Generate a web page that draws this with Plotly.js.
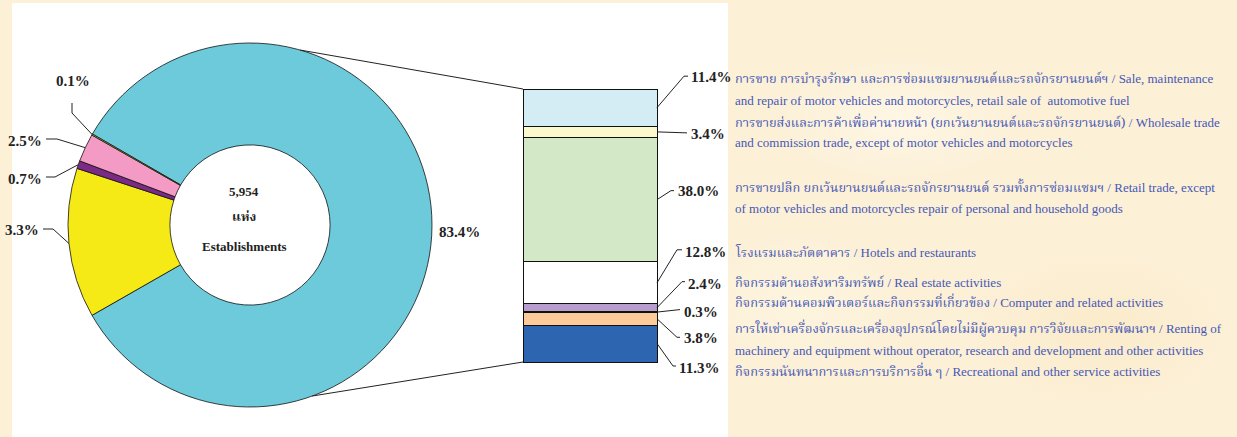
<!DOCTYPE html>
<html><head><meta charset="utf-8">
<script src="https://cdn.plot.ly/plotly-3.0.1.min.js"></script>
<style>
html,body{margin:0;padding:0;width:1237px;height:437px;overflow:hidden;background:#fcf0d7;}
#bg{position:absolute;left:0;top:0;width:1237px;height:437px;
 background:
  radial-gradient(ellipse 180px 90px at 900px 120px, rgba(255,250,235,0.7), rgba(255,250,235,0) 70%),
  radial-gradient(ellipse 200px 120px at 1100px 330px, rgba(250,232,195,0.6), rgba(250,232,195,0) 70%),
  radial-gradient(ellipse 160px 100px at 800px 300px, rgba(255,248,228,0.6), rgba(255,248,228,0) 70%),
  #fcf0d7;}
#panel{position:absolute;left:12px;top:3px;width:716px;height:434px;background:#ffffff;}
#chart{position:absolute;left:0;top:0;width:1237px;height:437px;}
</style></head><body>
<div id="bg"></div><div id="panel"></div><div id="chart"></div>
<script>
// ---------- data ----------
const pieCategories = ['Group 1 (detailed at right)', 'Group 2', 'Group 3', 'Group 4', 'Group 5'];
const pieValues = [83.4, 13.3, 0.7, 2.5, 0.1];
const pieLabelText = ['83.4%', '3.3%', '0.7%', '2.5%', '0.1%'];

const barCategories = [
  'Sale, maintenance and repair of motor vehicles',
  'Wholesale trade',
  'Retail trade',
  'Hotels and restaurants',
  'Real estate activities',
  'Computer and related activities',
  'Renting of machinery and equipment',
  'Recreational and other service activities'
];
const barValues = [11.4, 3.4, 38.0, 12.8, 2.4, 0.3, 3.8, 11.3];
const barLabelText = ['11.4%', '3.4%', '38.0%', '12.8%', '2.4%', '0.3%', '3.8%', '11.3%'];

const legendLines = [
  ['การขาย การบำรุงรักษา และการซ่อมแซมยานยนต์และรถจักรยานยนต์ฯ / Sale, maintenance',
   'and repair of motor vehicles and motorcycles, retail sale of  automotive fuel'],
  ['การขายส่งและการค้าเพื่อค่านายหน้า (ยกเว้นยานยนต์และรถจักรยานยนต์) / Wholesale trade',
   'and commission trade, except of motor vehicles and motorcycles'],
  ['การขายปลีก ยกเว้นยานยนต์และรถจักรยานยนต์ รวมทั้งการซ่อมแซมฯ / Retail trade, except',
   'of motor vehicles and motorcycles repair of personal and household goods'],
  ['โรงแรมและภัตตาคาร / Hotels and restaurants'],
  ['กิจกรรมด้านอสังหาริมทรัพย์ / Real estate activities'],
  ['กิจกรรมด้านคอมพิวเตอร์และกิจกรรมที่เกี่ยวข้อง / Computer and related activities'],
  ['การให้เช่าเครื่องจักรและเครื่องอุปกรณ์โดยไม่มีผู้ควบคุม การวิจัยและการพัฒนาฯ / Renting of',
   'machinery and equipment without operator, research and development and other activities'],
  ['กิจกรรมนันทนาการและการบริการอื่น ๆ / Recreational and other service activities']
];
const centerText = ['5,954', 'แห่ง', 'Establishments'];

// ---------- style ----------
const W = 1237, H = 437;
const PIE = {cx: 250, cy: 225, r: 182, hole: 0.44, rotation: 300};
const BAR = {x0: 523, x1: 657, y0: 89, y1: 362};
const pieColors = ['#6dcadb', '#f6ea16', '#7b2a85', '#f39bc4', '#c5d64b'];
const barColors = ['#d4ecf3', '#fbf8cd', '#d2e8c6', '#ffffff', '#b79dcd', '#2a2a3a', '#fdca99', '#2e65b0'];
const serif = '"Liberation Serif", "Times New Roman", serif';
const thaiFont = 'Norasi, "Noto Serif Thai", "TH Sarabun New", Garuda, "Noto Sans Thai", serif';
const textBlue = '#4658b6';
const px = x => x / W, py = y => 1 - y / H;

const pieLeaders = [
  null,
  {pts: [[53, 229], [43, 229]], lab: [41, 230, 'right']},
  {pts: [[55, 177], [46, 177]], lab: [44, 179, 'right']},
  {pts: [[57, 139], [46, 139]], lab: [44, 141, 'right']},
  {pts: [[72, 113], [72, 103]], lab: [73, 81, 'center']}
];
// bar leader styling: pixel offsets relative to segment mid on bar right edge (y down)
const barLeaders = [
  {p: [[27, -31.5], [31, -31.5]], l: [32, -30.5]},
  {p: [[30, 1]], l: [32, 2.5]},
  {p: [[14, -9], [17, -9]], l: [19, -9]},
  {p: [[20, -33], [25, -33]], l: [26, -31]},
  {p: [[25, -26], [28, -26]], l: [29, -24]},
  {p: [[23, -2.5]], l: [25, -0.5]},
  {p: [[20, 18.5], [23, 18.5]], l: [25, 19.5]},
  {p: [[16, 22.5], [19, 22.5]], l: [20, 24.5]}
];
const legendY = [[78, 100], [122, 143], [187, 208], [252], [282], [302], [328, 350], [371]];

// ---------- traces ----------
const barTotal = barValues.reduce((a, b) => a + b, 0);
const traces = [];
traces.push({
  type: 'pie', labels: pieCategories, values: pieValues, sort: false,
  direction: 'clockwise', rotation: PIE.rotation, hole: PIE.hole,
  marker: {colors: pieColors, line: {color: '#111', width: 0.8}},
  textinfo: 'none', hoverinfo: 'label+percent', showlegend: false,
  domain: {x: [px(PIE.cx - PIE.r), px(PIE.cx + PIE.r)], y: [py(PIE.cy + PIE.r), py(PIE.cy - PIE.r)]}
});
barValues.forEach((v, i) => {
  traces.push({
    type: 'bar', x: ['s'], y: [v], name: barCategories[i], width: [1],
    marker: {color: barColors[i], line: {color: '#111', width: 1}},
    xaxis: 'x', yaxis: 'y', showlegend: false, hoverinfo: 'name+y'
  });
});

// ---------- annotations & shapes ----------
const annotations = [], shapes = [];
const pathOf = pts => pts.map((p, k) => (k ? 'L ' : 'M ') + px(p[0]) + ' ' + py(p[1])).join(' ');
const total = pieValues.reduce((a, b) => a + b, 0);
let cum = 0;
pieValues.forEach((v, i) => {
  const mid = PIE.rotation + (cum + v / 2) / total * 360;
  cum += v;
  const rad = mid * Math.PI / 180;
  const ax = PIE.cx + PIE.r * Math.sin(rad), ay = PIE.cy - PIE.r * Math.cos(rad);
  const font = {family: serif, size: 15, color: '#222', weight: 'bold'};
  const L = pieLeaders[i];
  if (!L) {
    const lx = PIE.cx + (PIE.r + 28) * Math.sin(rad), ly = PIE.cy - (PIE.r + 28) * Math.cos(rad) + 7;
    annotations.push({xref: 'paper', yref: 'paper', x: px(lx), y: py(ly), text: pieLabelText[i],
      showarrow: false, font, xanchor: 'center', yanchor: 'middle'});
    return;
  }
  shapes.push({type: 'path', xref: 'paper', yref: 'paper', path: pathOf([[ax, ay]].concat(L.pts)),
    line: {color: '#222', width: 1}});
  annotations.push({xref: 'paper', yref: 'paper', x: px(L.lab[0]), y: py(L.lab[1]), text: pieLabelText[i],
    showarrow: false, font, xanchor: L.lab[2], yanchor: 'middle'});
});

// connectors from donut to bar
const conn = (bearing, bx, by) => {
  const rad = bearing * Math.PI / 180;
  const x = PIE.cx + PIE.r * Math.sin(rad), y = PIE.cy - PIE.r * Math.cos(rad);
  shapes.push({type: 'path', xref: 'paper', yref: 'paper', path: pathOf([[x, y], [bx, by]]),
    line: {color: '#222', width: 1}});
};
conn(16, BAR.x0, BAR.y0);
conn(160, BAR.x0, BAR.y1);

// bar leaders (bar value -> pixel along the bar)
const barY = v => BAR.y0 + v / barTotal * (BAR.y1 - BAR.y0);
let bc = 0;
barValues.forEach((v, i) => {
  const midPx = barY(bc + v / 2); bc += v;
  const B = barLeaders[i];
  const pts = [[BAR.x1, midPx]].concat(B.p.map(p => [BAR.x1 + p[0], midPx + p[1]]));
  shapes.push({type: 'path', xref: 'paper', yref: 'paper', path: pathOf(pts), line: {color: '#222', width: 1}});
  annotations.push({xref: 'paper', yref: 'paper', x: px(BAR.x1 + B.l[0]), y: py(midPx + B.l[1]),
    text: barLabelText[i], showarrow: false, xanchor: 'left', yanchor: 'middle',
    font: {family: serif, size: 15, color: '#222', weight: 'bold'}});
});

// Thai runs get their own font
const isThai = s => /[\u0E00-\u0E7F]/.test(s);
const thaiSpan = (s, size) => s.replace(/[\u0E00-\u0E7F][\u0E00-\u0E7F ()]*[\u0E00-\u0E7F)]/g,
  m => `<span style="font-family:${thaiFont.replace(/"/g, "'")};font-size:${size}px">${m}</span>`);
[-33, -7, 22].forEach((dy, k) => {
  annotations.push({xref: 'paper', yref: 'paper', x: px(PIE.cx - 6), y: py(PIE.cy + dy), text: thaiSpan(centerText[k], 13),
    showarrow: false, xanchor: 'center', yanchor: 'middle',
    font: {family: serif, size: 13, color: '#222', weight: 'bold'}});
});

// legend text at right
legendLines.forEach((lines, i) => {
  lines.forEach((t, j) => {
    const yy = legendY[i][j] + (isThai(t) ? 1.5 : 0);
    annotations.push({xref: 'paper', yref: 'paper', x: px(733), y: py(yy), text: thaiSpan(t, 12.8),
      showarrow: false, xanchor: 'left', yanchor: 'middle',
      font: {family: serif, size: 13, color: textBlue}});
  });
});

const xpad = 2 / (BAR.x1 - BAR.x0), ypad = 2 / (BAR.y1 - BAR.y0) * barTotal;
const layout = {
  width: W, height: H, margin: {l: 0, r: 0, t: 0, b: 0},
  paper_bgcolor: 'rgba(0,0,0,0)', plot_bgcolor: 'rgba(0,0,0,0)',
  barmode: 'stack', bargap: 0, showlegend: false,
  xaxis: {domain: [px(BAR.x0 - 2), px(BAR.x1 + 2)], type: 'category', range: [-0.5 - xpad, 0.5 + xpad],
    visible: false, fixedrange: true},
  yaxis: {domain: [py(BAR.y1 + 2), py(BAR.y0 - 2)], range: [barTotal + ypad, -ypad],
    visible: false, fixedrange: true},
  annotations, shapes
};
Plotly.newPlot('chart', traces, layout, {displayModeBar: false, staticPlot: true});
</script>
</body></html>
